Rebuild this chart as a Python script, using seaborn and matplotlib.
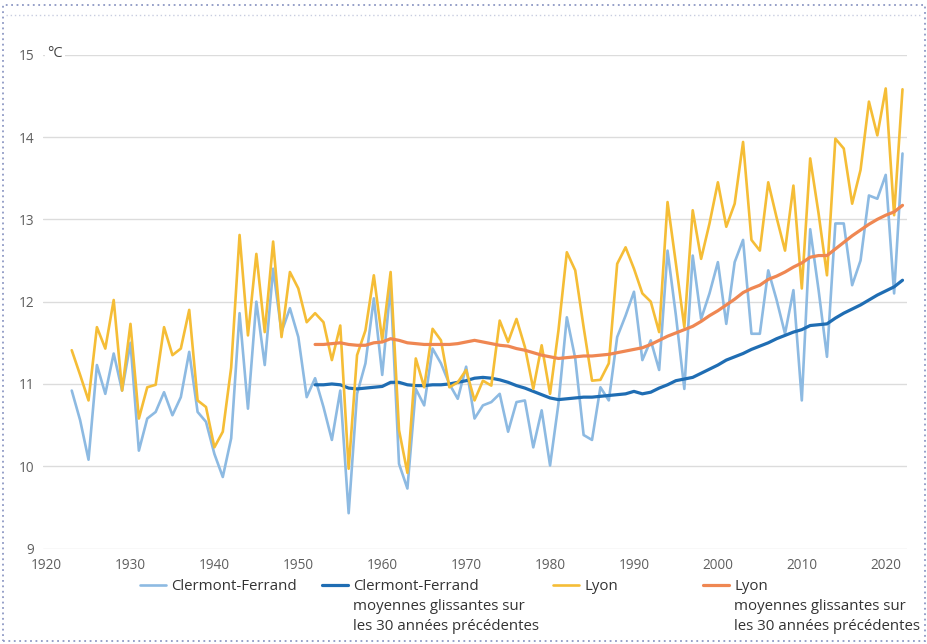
import numpy as np
import pandas as pd
import matplotlib
matplotlib.use("Agg")
import matplotlib.pyplot as plt
import seaborn as sns
from matplotlib.lines import Line2D
from matplotlib.patches import Rectangle

# ---------------- data ----------------
years = list(range(1923, 2023))
clermont = [10.92, 10.56, 10.08, 11.23, 10.88, 11.37, 10.92, 11.50, 10.19, 10.58,
            10.66, 10.90, 10.62, 10.84, 11.39, 10.66, 10.54, 10.15, 9.87, 10.34,
            11.86, 10.70, 12.00, 11.23, 12.40, 11.63, 11.92, 11.57, 10.84, 11.07,
            10.72, 10.32, 10.92, 9.43, 10.88, 11.25, 12.04, 11.11, 12.20, 10.03,
            9.73, 10.94, 10.74, 11.43, 11.25, 11.00, 10.82, 11.21, 10.58, 10.74,
            10.78, 10.88, 10.42, 10.78, 10.80, 10.23, 10.68, 10.01, 10.76, 11.81,
            11.31, 10.38, 10.32, 10.96, 10.80, 11.57, 11.83, 12.12, 11.29, 11.53,
            11.17, 12.62, 11.83, 10.94, 12.56, 11.79, 12.10, 12.48, 11.73, 12.48,
            12.75, 11.61, 11.61, 12.38, 12.02, 11.61, 12.14, 10.80, 12.88, 12.14,
            11.33, 12.95, 12.95, 12.20, 12.50, 13.29, 13.25, 13.54, 12.10, 13.80]
lyon = [11.41, 11.11, 10.80, 11.69, 11.43, 12.02, 10.92, 11.73, 10.58, 10.96,
        10.99, 11.69, 11.35, 11.43, 11.90, 10.80, 10.72, 10.23, 10.42, 11.20,
        12.81, 11.59, 12.58, 11.63, 12.73, 11.57, 12.36, 12.16, 11.75, 11.86,
        11.75, 11.29, 11.71, 9.97, 11.35, 11.65, 12.32, 11.53, 12.36, 10.44,
        9.92, 11.31, 10.96, 11.67, 11.53, 10.96, 11.02, 11.17, 10.80, 11.04,
        10.98, 11.77, 11.51, 11.79, 11.45, 10.94, 11.47, 10.88, 11.65, 12.60,
        12.38, 11.69, 11.04, 11.05, 11.25, 12.46, 12.66, 12.40, 12.10, 12.00,
        11.63, 13.21, 12.46, 11.69, 13.11, 12.52, 12.95, 13.45, 12.91, 13.19,
        13.94, 12.75, 12.62, 13.45, 13.02, 12.62, 13.41, 12.16, 13.74, 13.07,
        12.32, 13.98, 13.86, 13.19, 13.60, 14.43, 14.02, 14.59, 13.05, 14.58]

ma_years = list(range(1952, 2023))
clermont_ma = [10.99, 10.99, 11.00, 10.99, 10.95, 10.94, 10.95, 10.96, 10.97, 11.02,
               11.02, 10.99, 10.98, 10.98, 10.99, 10.99, 11.00, 11.02, 11.04, 11.07,
               11.08, 11.07, 11.05, 11.02, 10.98, 10.95, 10.91, 10.87, 10.83, 10.81,
               10.82, 10.83, 10.84, 10.84, 10.85, 10.86, 10.87, 10.88, 10.91, 10.88,
               10.90, 10.95, 10.99, 11.04, 11.06, 11.08, 11.13, 11.18, 11.23, 11.29,
               11.33, 11.37, 11.42, 11.46, 11.50, 11.55, 11.59, 11.63, 11.66, 11.71,
               11.72, 11.73, 11.80, 11.86, 11.91, 11.96, 12.02, 12.08, 12.13, 12.18,
               12.26]
lyon_ma = [11.48, 11.48, 11.49, 11.50, 11.48, 11.47, 11.47, 11.50, 11.51, 11.55,
           11.53, 11.50, 11.49, 11.48, 11.48, 11.48, 11.48, 11.49, 11.51, 11.53,
           11.51, 11.49, 11.47, 11.46, 11.43, 11.41, 11.38, 11.35, 11.33, 11.31,
           11.32, 11.33, 11.34, 11.34, 11.35, 11.36, 11.38, 11.40, 11.42, 11.44,
           11.48, 11.53, 11.58, 11.62, 11.66, 11.70, 11.76, 11.83, 11.89, 11.96,
           12.03, 12.11, 12.16, 12.20, 12.27, 12.31, 12.36, 12.42, 12.47, 12.54,
           12.56, 12.56, 12.64, 12.72, 12.80, 12.87, 12.94, 13.00, 13.05, 13.09,
           13.17]

y_ticks = [9, 10, 11, 12, 13, 14, 15]
x_ticks = [1920, 1930, 1940, 1950, 1960, 1970, 1980, 1990, 2000, 2010, 2020]

label_cf = "Clermont-Ferrand"
label_cf_ma = "Clermont-Ferrand"
label_ly = "Lyon"
label_ly_ma = "Lyon"
ma_extra = ["moyennes glissantes sur", "les 30 années précédentes"]

# ---------------- style ----------------
sns.set_theme(style="white")
plt.rcParams['font.family'] = ['Open Sans', 'DejaVu Sans']

c_cf = "#8dbae2"
c_cf_ma = "#1f6db3"
c_ly = "#f5bd36"
c_ly_ma = "#ef8752"
txt_col = "#5f5f5f"

W, H = 928, 644
fig = plt.figure(figsize=(W / 100, H / 100), dpi=100)
fig.patch.set_facecolor("white")
ax = fig.add_axes([42.7 / W, 1 - 548.6 / H, (906.7 - 42.7) / W, (548.6 - 54.7) / H])

df_a = pd.DataFrame({"year": years, "cf": clermont, "ly": lyon})
df_m = pd.DataFrame({"year": ma_years, "cf": clermont_ma, "ly": lyon_ma})

sns.lineplot(data=df_a, x="year", y="cf", ax=ax, color=c_cf, lw=1.9, zorder=3)
sns.lineplot(data=df_m, x="year", y="cf", ax=ax, color=c_cf_ma, lw=2.3, zorder=4)
sns.lineplot(data=df_a, x="year", y="ly", ax=ax, color=c_ly, lw=1.9, zorder=5)
sns.lineplot(data=df_m, x="year", y="ly", ax=ax, color=c_ly_ma, lw=2.3, zorder=6)

ax.set_xlim(1919.54, 2022.5)
ax.set_ylim(9, 15)
ax.set_yticks(y_ticks)
ax.set_yticklabels([str(v) for v in y_ticks])
ax.set_xticks(x_ticks)
ax.set_xticklabels([str(v) for v in x_ticks])
ax.set_xlabel("")
ax.set_ylabel("")
for s in ax.spines.values():
    s.set_visible(False)
ax.grid(axis="y", color="#dcdcdc", lw=1.0, zorder=0)
ax.grid(axis="x", visible=False)
ax.tick_params(axis="both", length=0, labelsize=9.8, colors=txt_col)
ax.tick_params(axis="y", pad=6)
ax.tick_params(axis="x", pad=7)

# unit label
ax.text(1920.1, 15.02, "°C", ha="left", va="center", fontsize=10.5, color="#444444",
        zorder=7, bbox=dict(facecolor="white", edgecolor="none", pad=1.5))

# ---------------- legend ----------------
entries = [
    (140, label_cf, c_cf, 1.9, False),
    (322, label_cf_ma, c_cf_ma, 2.3, True),
    (553, label_ly, c_ly, 1.9, False),
    (703, label_ly_ma, c_ly_ma, 2.3, True),
]
legs = []
for px, lab, col, lw, extra in entries:
    lg = fig.legend(handles=[Line2D([], [], color=col, lw=lw)], labels=[lab],
                    loc="upper left", bbox_to_anchor=(px / W, 1 - 579 / H),
                    frameon=False, borderpad=0, borderaxespad=0,
                    handlelength=1.75, handletextpad=0.35, fontsize=10.8,
                    labelcolor="#333333")
    legs.append((lg, extra))

fig.canvas.draw()
r = fig.canvas.get_renderer()
for lg, extra in legs:
    if not extra:
        continue
    bb = lg.get_texts()[0].get_window_extent(r)
    x0 = bb.x0 / W
    for i, line in enumerate(ma_extra):
        fig.text(x0, 1 - (607 + 19 * i) / H, line, ha="left", va="center",
                 fontsize=10.8, color="#333333")

# dotted frame
fig.add_artist(Rectangle((3 / W, 3 / H), (W - 6) / W, (H - 8) / H, transform=fig.transFigure,
                         fill=False, ec="#8e98c4", lw=1.3, ls=(0, (1, 2))))
fig.add_artist(Line2D([6 / W, (W - 6) / W], [1 - 15 / H, 1 - 15 / H], transform=fig.transFigure,
                      color="#c8cde0", lw=1.0, ls=(0, (1, 2))))

fig.savefig("out.png", dpi=100, facecolor="white")
